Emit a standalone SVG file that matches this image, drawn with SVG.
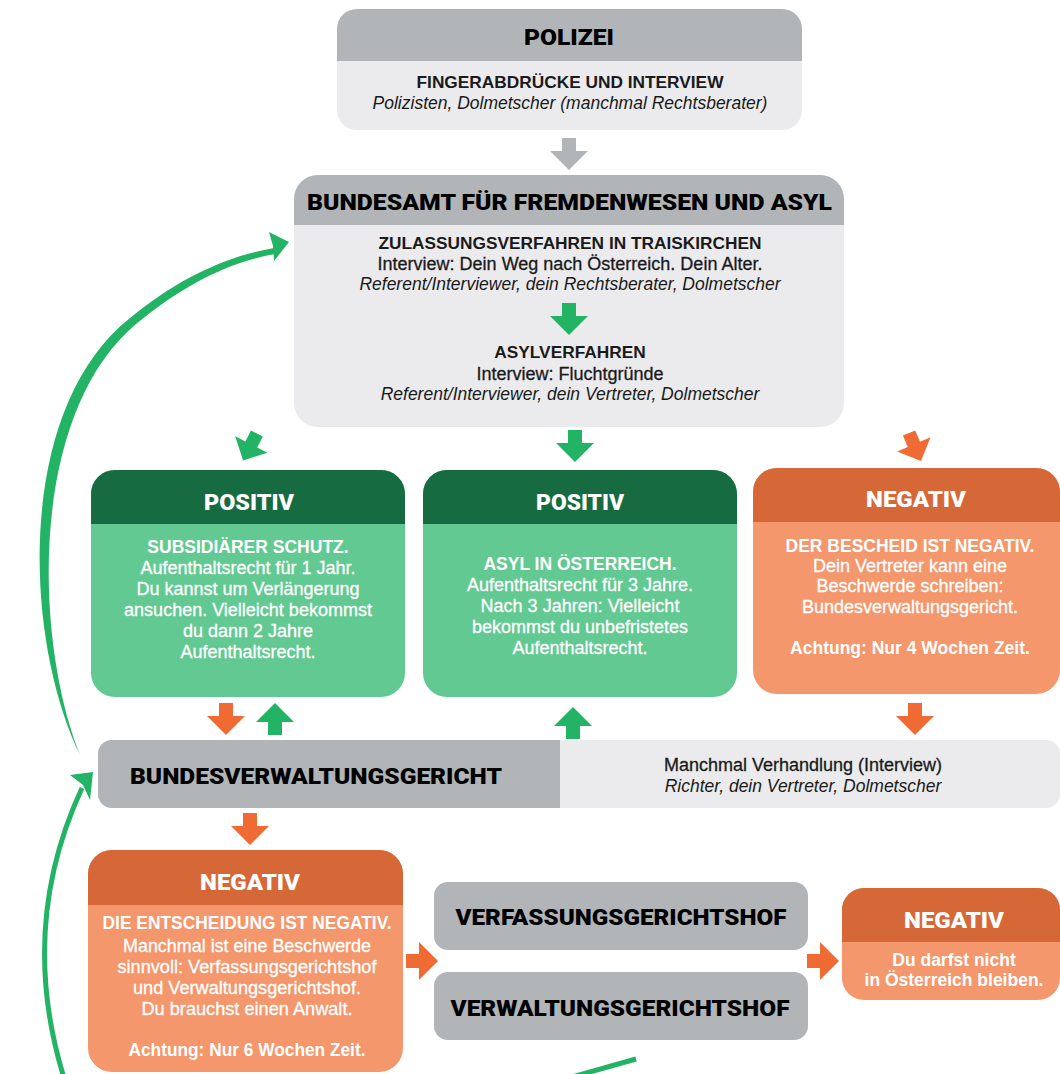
<svg xmlns="http://www.w3.org/2000/svg" width="1060" height="1074" viewBox="0 0 1060 1074">
<style>
.hd{font-family:Roboto,"Liberation Sans",Arial,sans-serif;font-weight:900;font-size:22px;text-anchor:middle;fill:#000}
.hw{fill:#fff}
.t{font-family:"Liberation Sans",Arial,sans-serif;font-size:17.3px;text-anchor:middle;fill:#1a1a1a}
.b{font-weight:bold}
.m{font-size:18px;stroke:#1a1a1a;stroke-width:0.3}
.i{font-style:italic;font-size:17.5px}
.tw{fill:#fff;font-size:18px;stroke:#fff;stroke-width:0.3}
.tw.b{font-size:17.5px;stroke:none}
.nw{font-size:19px}
.grey{fill:#b1b5b8}
.light{fill:#ebebed}
.dg{fill:#176b41}
.lg{fill:#63c992}
.do{fill:#d66838}
.lo{fill:#f4976d}
.ga{fill:#22b365}
.oa{fill:#f06a33}
.gra{fill:#b1b5b8}
</style>
<defs>
<path id="ad" d="M-7,0 H7 V13 H19 L0,32 L-19,13 H-7 Z"/>
</defs>
<rect width="1060" height="1074" fill="#fff"/>

<g id="polizei">
<rect x="337" y="9" width="465" height="121" rx="20" class="light"/>
<path d="M337 61 V29 A20 20 0 0 1 357 9 H782 A20 20 0 0 1 802 29 V61 Z" class="grey"/>
<text x="569" y="45" class="hd" textLength="90" lengthAdjust="spacingAndGlyphs">POLIZEI</text>
<text x="570" y="88" class="t b">FINGERABDRÜCKE UND INTERVIEW</text>
<text x="570" y="109" class="t i">Polizisten, Dolmetscher (manchmal Rechtsberater)</text>
</g>

<g id="bfa">
<rect x="294" y="175" width="550" height="252" rx="24" class="light"/>
<path d="M294 225 V199 A24 24 0 0 1 318 175 H820 A24 24 0 0 1 844 199 V225 Z" class="grey"/>
<text x="569.5" y="210" class="hd" textLength="525" lengthAdjust="spacingAndGlyphs">BUNDESAMT FÜR FREMDENWESEN UND ASYL</text>
<text x="570" y="249" class="t b">ZULASSUNGSVERFAHREN IN TRAISKIRCHEN</text>
<text x="570" y="270" class="t m">Interview: Dein Weg nach Österreich. Dein Alter.</text>
<text x="570" y="290" class="t i">Referent/Interviewer, dein Rechtsberater, Dolmetscher</text>
<text x="570" y="358" class="t b">ASYLVERFAHREN</text>
<text x="570" y="380" class="t m">Interview: Fluchtgründe</text>
<text x="570" y="400" class="t i">Referent/Interviewer, dein Vertreter, Dolmetscher</text>
</g>

<g id="positiv-subsidiaer">
<rect x="91" y="470" width="314" height="227" rx="24" class="lg"/>
<path d="M91 524 V494 A24 24 0 0 1 115 470 H381 A24 24 0 0 1 405 494 V524 Z" class="dg"/>
<text x="249" y="510" class="hd hw" textLength="90" lengthAdjust="spacingAndGlyphs">POSITIV</text>
<text x="248" y="553" class="t tw b">SUBSIDIÄRER SCHUTZ.</text>
<text x="248" y="574" class="t tw">Aufenthaltsrecht für 1 Jahr.</text>
<text x="248" y="595" class="t tw">Du kannst um Verlängerung</text>
<text x="248" y="616" class="t tw">ansuchen. Vielleicht bekommst</text>
<text x="248" y="637" class="t tw">du dann 2 Jahre</text>
<text x="248" y="658" class="t tw">Aufenthaltsrecht.</text>
</g>

<g id="positiv-asyl">
<rect x="423" y="470" width="314" height="227" rx="24" class="lg"/>
<path d="M423 524 V494 A24 24 0 0 1 447 470 H713 A24 24 0 0 1 737 494 V524 Z" class="dg"/>
<text x="580" y="510" class="hd hw" textLength="88" lengthAdjust="spacingAndGlyphs">POSITIV</text>
<text x="580" y="570" class="t tw b">ASYL IN ÖSTERREICH.</text>
<text x="580" y="591" class="t tw">Aufenthaltsrecht für 3 Jahre.</text>
<text x="580" y="612" class="t tw">Nach 3 Jahren: Vielleicht</text>
<text x="580" y="633" class="t tw">bekommst du unbefristetes</text>
<text x="580" y="654" class="t tw">Aufenthaltsrecht.</text>
</g>

<g id="negativ-bescheid">
<rect x="753" y="468" width="307" height="226" rx="24" class="lo"/>
<path d="M753 522 V492 A24 24 0 0 1 777 468 H1036 A24 24 0 0 1 1060 492 V522 Z" class="do"/>
<text x="916" y="507" class="hd hw" textLength="100" lengthAdjust="spacingAndGlyphs">NEGATIV</text>
<text x="910" y="552" class="t tw b">DER BESCHEID IST NEGATIV.</text>
<text x="910" y="572" class="t tw">Dein Vertreter kann eine</text>
<text x="910" y="592" class="t tw">Beschwerde schreiben:</text>
<text x="910" y="613" class="t tw">Bundesverwaltungsgericht.</text>
<text x="910" y="654" class="t tw b">Achtung: Nur 4 Wochen Zeit.</text>
</g>

<g id="bvwg">
<rect x="98" y="740" width="962" height="68" rx="14" class="light"/>
<path d="M560 740 H112 A14 14 0 0 0 98 754 V794 A14 14 0 0 0 112 808 H560 Z" class="grey"/>
<text x="316" y="784" class="hd" textLength="372" lengthAdjust="spacingAndGlyphs">BUNDESVERWALTUNGSGERICHT</text>
<text x="803" y="771" class="t m">Manchmal Verhandlung (Interview)</text>
<text x="803" y="792" class="t i">Richter, dein Vertreter, Dolmetscher</text>
</g>

<g id="negativ-entscheidung">
<rect x="88" y="850" width="315" height="222" rx="24" class="lo"/>
<path d="M88 905 V874 A24 24 0 0 1 112 850 H379 A24 24 0 0 1 403 874 V905 Z" class="do"/>
<text x="250" y="890" class="hd hw" textLength="100" lengthAdjust="spacingAndGlyphs">NEGATIV</text>
<text x="247" y="929" class="t tw b" textLength="289" lengthAdjust="spacingAndGlyphs">DIE ENTSCHEIDUNG IST NEGATIV.</text>
<text x="247" y="952" class="t tw nw" textLength="248" lengthAdjust="spacingAndGlyphs">Manchmal ist eine Beschwerde</text>
<text x="247" y="973" class="t tw nw" textLength="259" lengthAdjust="spacingAndGlyphs">sinnvoll: Verfassungsgerichtshof</text>
<text x="247" y="994" class="t tw nw" textLength="228" lengthAdjust="spacingAndGlyphs">und Verwaltungsgerichtshof.</text>
<text x="247" y="1015" class="t tw nw" textLength="211" lengthAdjust="spacingAndGlyphs">Du brauchst einen Anwalt.</text>
<text x="247" y="1056" class="t tw b" textLength="237" lengthAdjust="spacingAndGlyphs">Achtung: Nur 6 Wochen Zeit.</text>
</g>

<g id="vfgh">
<rect x="434" y="882" width="374" height="68" rx="14" class="grey"/>
<text x="621" y="925" class="hd" textLength="331" lengthAdjust="spacingAndGlyphs">VERFASSUNGSGERICHTSHOF</text>
</g>

<g id="vwgh">
<rect x="434" y="972" width="374" height="68" rx="14" class="grey"/>
<text x="620" y="1016" class="hd" textLength="339" lengthAdjust="spacingAndGlyphs">VERWALTUNGSGERICHTSHOF</text>
</g>

<g id="negativ-final">
<rect x="842" y="888" width="218" height="112" rx="22" class="lo"/>
<path d="M842 942 V910 A22 22 0 0 1 864 888 H1038 A22 22 0 0 1 1060 910 V942 Z" class="do"/>
<text x="954" y="928" class="hd hw" textLength="100" lengthAdjust="spacingAndGlyphs">NEGATIV</text>
<text x="954" y="966" class="t tw b">Du darfst nicht</text>
<text x="954" y="986" class="t tw b">in Österreich bleiben.</text>
</g>

<g id="connectors">
<use href="#ad" class="gra" transform="translate(569,138)"/>
<use href="#ad" class="ga" transform="translate(569,303)"/>
<use href="#ad" class="ga" transform="translate(250,447) rotate(27) scale(0.95) translate(0,-16)"/>
<use href="#ad" class="ga" transform="translate(575,430)"/>
<use href="#ad" class="oa" transform="translate(915,447) rotate(-23) scale(0.95) translate(0,-16)"/>
<use href="#ad" class="oa" transform="translate(226,703)"/>
<use href="#ad" class="ga" transform="translate(275,735) rotate(180)"/>
<use href="#ad" class="ga" transform="translate(573,739) rotate(180)"/>
<use href="#ad" class="oa" transform="translate(915,703)"/>
<use href="#ad" class="oa" transform="translate(250,813)"/>
<use href="#ad" class="oa" transform="translate(406,961) rotate(-90)"/>
<use href="#ad" class="oa" transform="translate(807,961) rotate(-90)"/>
<path class="ga" d="M80 755 C24 640 14 410 130 318 C180 277 228 256 274 248 L275 254 C230 262 186 283 136 324 C28 415 34 640 80 755 Z"/>
<path class="ga" d="M269 232 L289 242 L274 261 L273 246 Z"/>
<path d="M64 1078 C40 1000 30 900 82 788" fill="none" stroke="#22b365" stroke-width="5"/>
<path class="ga" d="M70 775 L93 772 L90 800 L83 785 Z"/>
<path d="M572 1077 L636 1059" fill="none" stroke="#22b365" stroke-width="5"/>
</g>
</svg>
